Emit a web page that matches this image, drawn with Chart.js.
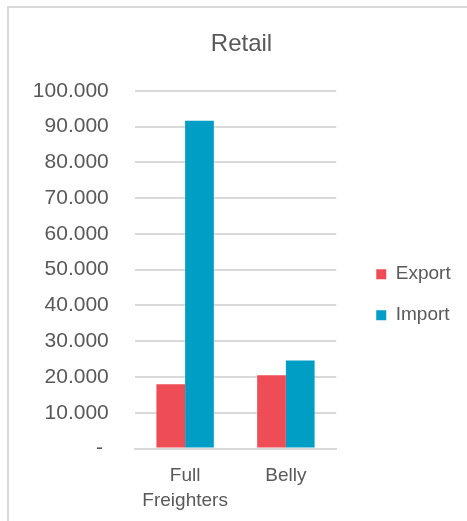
<!DOCTYPE html>
<html>
<head>
<meta charset="utf-8">
<script src="https://cdn.jsdelivr.net/npm/chart.js@4"></script>
<style>
  html, body { margin: 0; padding: 0; background: #fff; }
  #wrap { position: relative; width: 467px; height: 521px; overflow: hidden; }
  #frame { position: absolute; left: 7px; top: 6px; width: 480px; height: 540px;
           border-left: 2px solid #d9d9d9; border-top: 2px solid #d9d9d9; }
  #chart { position: absolute; left: 0; top: 0; }
</style>
</head>
<body>
<div id="wrap">
  <div id="frame"></div>
  <canvas id="chart" width="467" height="521"></canvas>
</div>
<script>
/* ===================== DATA ===================== */
const categories = [["Full", "Freighters"], "Belly"];
const exportVals = [18000, 20500];
const importVals = [91600, 24600];
const seriesNames = ["Export", "Import"];
const colors = ["#ef4d55", "#009dc4"];

const GREY = "#595959";
const FONT = "'Liberation Sans', Arial, sans-serif";

/* ===================== FORMAT ===================== */
// accounting style: 100.000, zero as a dash
const fmt = v => v === 0 ? "- " : v.toLocaleString("de-DE");

/* ===================== BOX NUDGE ===================== */
// excel puts the legend lower / further out and the title a bit right
const nudge = {
  id: "nudge",
  afterLayout(chart) {
    const l = chart.legend;
    l.left += 18; l.right += 18;
    l.top += 25; l.bottom += 25;
    const t = chart.titleBlock;
    t.left += 6; t.right += 6;
  }
};

/* ===================== CHART ===================== */
new Chart(document.getElementById("chart"), {
  type: "bar",
  data: {
    labels: categories,
    datasets: [
      { label: seriesNames[0], data: exportVals, backgroundColor: colors[0] },
      { label: seriesNames[1], data: importVals, backgroundColor: colors[1] }
    ]
  },
  options: {
    responsive: false,
    animation: false,
    layout: { padding: { left: 34, right: 30, top: 30, bottom: 8 } },
    datasets: { bar: { categoryPercentage: 0.57, barPercentage: 1 } },
    plugins: {
      title: {
        display: true,
        text: "Retail",
        color: GREY,
        font: { family: FONT, size: 24, weight: "normal" },
        padding: { top: 0, bottom: 32 }
      },
      legend: {
        position: "right",
        fullSize: false,
        labels: {
          color: GREY,
          boxWidth: 10,
          boxHeight: 10,
          padding: 22,
          font: { family: FONT, size: 19 }
        }
      },
      tooltip: { enabled: false }
    },
    scales: {
      x: {
        grid: { display: false, drawTicks: false },
        border: { color: "#d9d9d9", width: 2 },
        ticks: { color: GREY, font: { family: FONT, size: 19, lineHeight: 1.3 }, padding: 15 },
        afterFit: s => { s.height -= 15; }   // padding is counted twice
      },
      y: {
        min: 0,
        max: 100000,
        border: { display: false },
        grid: { color: "#d9d9d9", lineWidth: 2, drawTicks: false },
        ticks: {
          stepSize: 10000,
          color: GREY,
          padding: 26,
          font: { family: FONT, size: 21 },
          callback: v => fmt(v)
        }
      }
    }
  },
  plugins: [nudge]
});
</script>
</body>
</html>
